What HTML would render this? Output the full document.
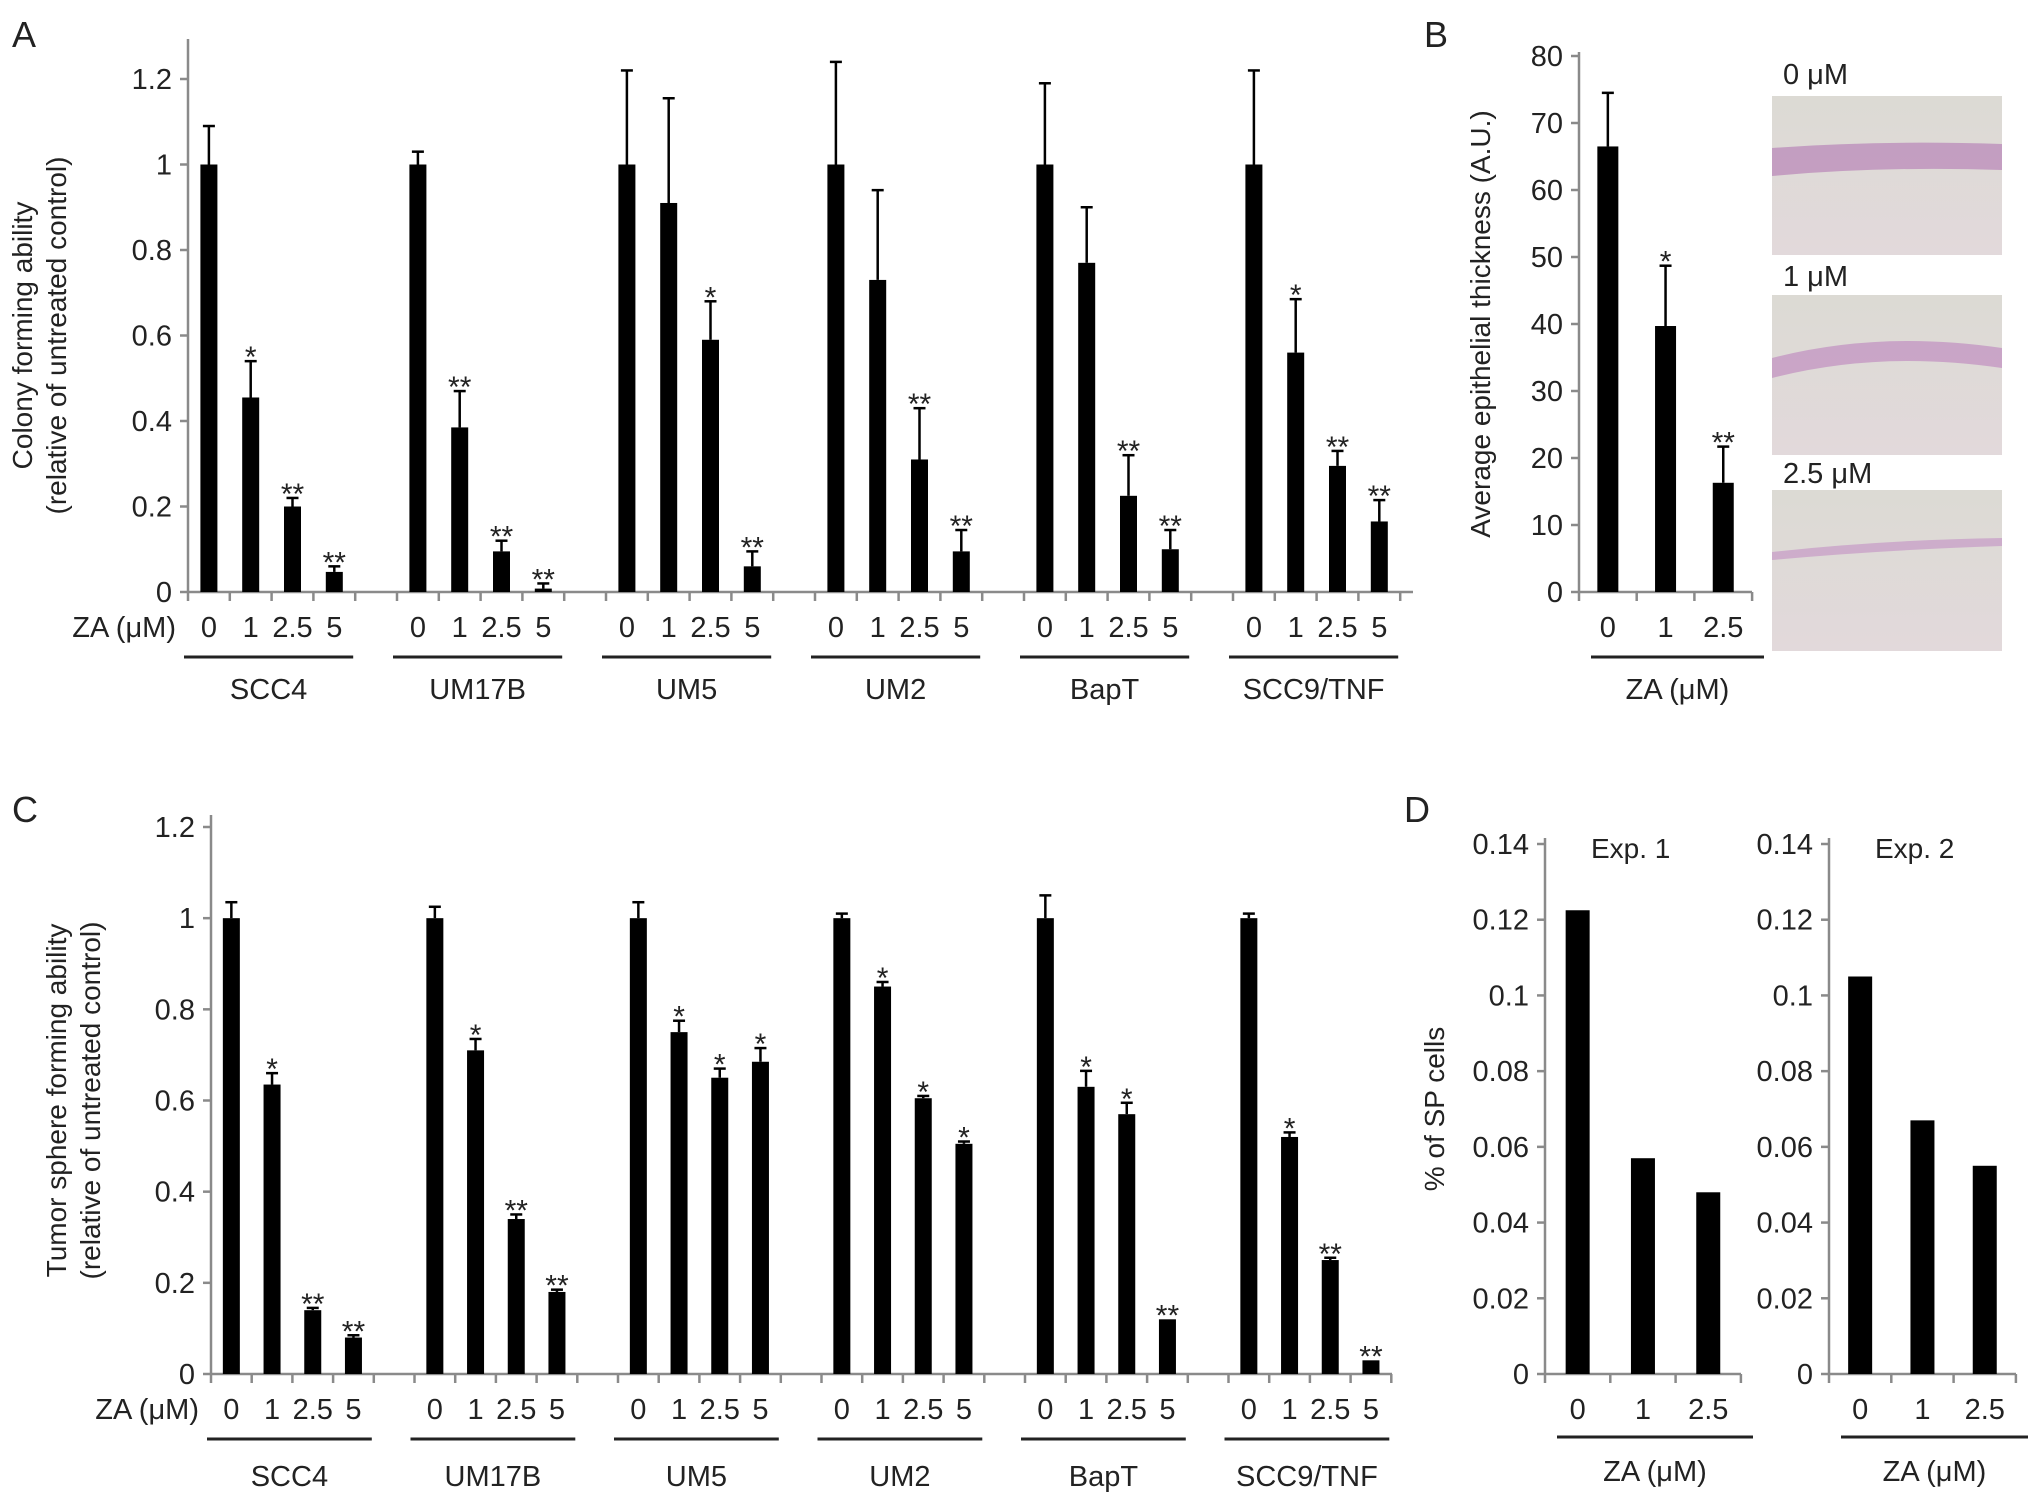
<!DOCTYPE html>
<html><head><meta charset="utf-8"><style>
html,body{margin:0;padding:0;background:#fff}
svg{display:block}
text{font-family:"Liberation Sans",Arial,sans-serif;fill:#222}
</style></head><body>
<svg id="fig" width="2032" height="1501" viewBox="0 0 2032 1501" xmlns="http://www.w3.org/2000/svg">
<text x="12" y="47" font-size="36">A</text>
<text x="1424" y="47" font-size="36">B</text>
<text x="12" y="822" font-size="36">C</text>
<text x="1404" y="822" font-size="36">D</text>
<g>
<defs><linearGradient id="tis" x1="0" y1="0" x2="0" y2="1"><stop offset="0" stop-color="#dcdad4"/><stop offset="1" stop-color="#e2d9db"/></linearGradient></defs>
<text x="1783" y="84" font-size="29">0 μM</text>
<rect x="1772" y="96" width="230" height="159" fill="url(#tis)"/>
<path d="M1772 148 Q1880 140 2002 144 L2002 170 Q1880 166 1772 176 Z" fill="#b884b8" opacity="0.7"/>
<text x="1783" y="286" font-size="29">1 μM</text>
<rect x="1772" y="295" width="230" height="160" fill="url(#tis)"/>
<path d="M1772 358 Q1880 330 2002 348 L2002 368 Q1880 350 1772 378 Z" fill="#c08ec0" opacity="0.7"/>
<text x="1783" y="483" font-size="29">2.5 μM</text>
<rect x="1772" y="490" width="230" height="161" fill="url(#tis)"/>
<path d="M1772 552 Q1880 540 2002 538 L2002 546 Q1880 550 1772 560 Z" fill="#c69ac6" opacity="0.7"/>
</g>
</svg>
<script>
const NS='http://www.w3.org/2000/svg';
const svg=document.getElementById('fig');
// ---- Panel A data ----
const groupsA=['SCC4','UM17B','UM5','UM2','BapT','SCC9/TNF'];
const dosesA=['0','1','2.5','5'];
const valuesA=[[1,0.455,0.2,0.047],[1,0.385,0.095,0.008],[1,0.91,0.59,0.06],[1,0.73,0.31,0.095],[1,0.77,0.225,0.10],[1,0.56,0.295,0.165]];
const errTopA=[[1.09,0.54,0.22,0.06],[1.03,0.47,0.12,0.02],[1.22,1.155,0.68,0.095],[1.24,0.94,0.43,0.145],[1.19,0.90,0.32,0.145],[1.22,0.685,0.33,0.215]];
const starsA=[['','*','**','**'],['','**','**','**'],['','','*','**'],['','','**','**'],['','','**','**'],['','*','**','**']];
const ticksA=[0,0.2,0.4,0.6,0.8,1,1.2];
const tickLabelsA=['0','0.2','0.4','0.6','0.8','1','1.2'];
// ---- Panel B data ----
const dosesB=['0','1','2.5'];
const valuesB=[66.5,39.7,16.3];
const errTopB=[74.5,48.7,21.7];
const starsB=['','*','**'];
const ticksB=[0,10,20,30,40,50,60,70,80];
// ---- Panel C data ----
const groupsC=['SCC4','UM17B','UM5','UM2','BapT','SCC9/TNF'];
const valuesC=[[1,0.635,0.14,0.08],[1,0.71,0.34,0.18],[1,0.75,0.65,0.685],[1,0.85,0.605,0.505],[1,0.63,0.57,0.12],[1,0.52,0.25,0.03]];
const errTopC=[[1.035,0.66,0.145,0.085],[1.025,0.735,0.35,0.185],[1.035,0.775,0.67,0.715],[1.01,0.86,0.61,0.51],[1.05,0.665,0.595,0.12],[1.01,0.53,0.255,0.03]];
const starsC=[['','*','**','**'],['','*','**','**'],['','*','*','*'],['','*','*','*'],['','*','*','**'],['','*','**','**']];
const ticksC=[0,0.2,0.4,0.6,0.8,1,1.2];
const tickLabelsC=['0','0.2','0.4','0.6','0.8','1','1.2'];
// ---- Panel D data ----
const dosesD=['0','1','2.5'];
const valuesD1=[0.1225,0.057,0.048];
const valuesD2=[0.105,0.067,0.055];
const ticksD=[0,0.02,0.04,0.06,0.08,0.1,0.12,0.14];
const tickLabelsD=['0','0.02','0.04','0.06','0.08','0.1','0.12','0.14'];

const FS=29;
function el(tag,attrs,parent){const e=document.createElementNS(NS,tag);for(const k in attrs)e.setAttribute(k,attrs[k]);(parent||svg).appendChild(e);return e;}
function txt(s,x,y,size,anchor,parent){const t=el('text',{x:x,y:y,'font-size':size,'text-anchor':anchor||'middle'},parent);t.textContent=s;return t;}

function drawAxes(g,c,ticks,labels,nSlots,tickFs){
  const ys=v=>c.y0-(v/c.vmax)*(c.y0-c.yTop);
  const ax=el('line',{x1:c.x0,y1:c.y0,x2:c.x0,y2:c.axTop,stroke:'#8a8a8a','stroke-width':2.5},g);
  
  
  const xa=el('line',{x1:c.x0,y1:c.y0,x2:c.x1,y2:c.y0,stroke:'#8a8a8a','stroke-width':2.5},g);
  
  
  ticks.forEach((v,i)=>{
    el('line',{x1:c.x0-8,y1:ys(v),x2:c.x0,y2:ys(v),stroke:'#8a8a8a','stroke-width':2.5},g);
    const t=txt(labels[i],c.x0-16,ys(v)+10,tickFs,'end',g);
    
    
  });
  for(let k=0;k<=nSlots;k++){const x=c.x0+k*c.slot;el('line',{x1:x,y1:c.y0,x2:x,y2:c.y0+9,stroke:'#8a8a8a','stroke-width':2.5},g);}
  return ys;
}
function bar(g,ys,cx,w,v,c,err,star,starFs){
  const r=el('rect',{x:cx-w/2,y:ys(v),width:w,height:c.y0-ys(v),fill:'#000'},g);
  
  
  let top=ys(v);
  if(err!=null&&err>v){top=ys(err);el('line',{x1:cx,y1:ys(v),x2:cx,y2:top,stroke:'#000','stroke-width':2.5},g);el('line',{x1:cx-6,y1:top,x2:cx+6,y2:top,stroke:'#000','stroke-width':2.5},g);}
  if(star){const s=txt(star,cx,top-6+starFs*0.4,starFs,'middle',g);s.setAttribute('fill','#555');}
}
function grouped(name,c,groups,doses,vals,errs,stars,ticks,labels,yLab,yLabX,labY,lineY,grpY){
  const g=el('g',{});
  
  
  const ys=drawAxes(g,c,ticks,labels,groups.length*5-1,FS);
  groups.forEach((gn,gi)=>{
    doses.forEach((d,di)=>{
      const cx=c.x0+(gi*5+di+0.5)*c.slot;
      bar(g,ys,cx,c.bw,vals[gi][di],c,errs[gi][di],stars[gi][di],30);
      const t=txt(d,cx,labY,FS,'middle',g);
      
      
    });
    const xs=c.x0+(gi*5)*c.slot-4, xe=c.x0+(gi*5+4)*c.slot-2;
    el('line',{x1:xs,y1:lineY,x2:xe,y2:lineY,stroke:'#222','stroke-width':3},g);
    const t=txt(gn,(xs+xe)/2,grpY,FS,'middle',g);
    
    
  });
  const z=txt('ZA (μM)',c.x0-12,labY,FS,'end',g);
  
  
  const cy=(c.y0+c.yTop)/2;
  yLab.forEach((s,i)=>{const t=el('text',{x:0,y:0,'font-size':28,'text-anchor':'middle',transform:`translate(${yLabX+i*34},${cy}) rotate(-90)`},g);t.textContent=s;});
}
grouped('panel-a-chart',{x0:188,x1:1413,y0:592,yTop:79,axTop:39,vmax:1.2,slot:41.8,bw:17},groupsA,dosesA,valuesA,errTopA,starsA,ticksA,tickLabelsA,['Colony forming ability','(relative of untreated control)'],32,637,657,699);
grouped('panel-c-chart',{x0:211,x1:1392,y0:1374,yTop:827,axTop:815,vmax:1.2,slot:40.7,bw:17},groupsC,dosesA,valuesC,errTopC,starsC,ticksC,tickLabelsC,['Tumor sphere forming ability','(relative of untreated control)'],66,1419,1439,1486);

function simple(name,c,doses,vals,errs,stars,ticks,labels,title,lineY,zaY,exp){
  const g=el('g',{});
  
  
  const ys=drawAxes(g,c,ticks,labels,doses.length,FS);
  doses.forEach((d,i)=>{
    const cx=c.x0+(i+0.5)*c.slot;
    bar(g,ys,cx,c.bw,vals[i],c,errs?errs[i]:null,stars?stars[i]:'',30);
    const t=txt(d,cx,c.y0+45,FS,'middle',g);
    
    
  });
  const xs=c.x0+12, xe=c.x1+12;
  el('line',{x1:xs,y1:lineY,x2:xe,y2:lineY,stroke:'#222','stroke-width':3},g);
  const z=txt('ZA (μM)',(xs+xe)/2,zaY,FS,'middle',g);
  
  
  if(title){const cy=(c.y0+c.yTop)/2;const t=el('text',{x:0,y:0,'font-size':28,'text-anchor':'middle',transform:`translate(${title[1]},${cy}) rotate(-90)`},g);t.textContent=title[0];}
  if(exp){const t=txt(exp,c.x0+46,858,28,'start',g);}
}
simple('panel-b-chart',{x0:1579,x1:1752,y0:592,yTop:56,axTop:52,vmax:80,slot:57.7,bw:21},dosesB,valuesB,errTopB,starsB,ticksB,ticksB.map(String),['Average epithelial thickness (A.U.)',1490],657,699,null);
simple('panel-d-exp1-chart',{x0:1545,x1:1741,y0:1374,yTop:844,axTop:838,vmax:0.14,slot:65.3,bw:24},dosesD,valuesD1,null,null,ticksD,tickLabelsD,['% of SP cells',1444],1437,1481,'Exp. 1');
simple('panel-d-exp2-chart',{x0:1829,x1:2016,y0:1374,yTop:844,axTop:838,vmax:0.14,slot:62.3,bw:24},dosesD,valuesD2,null,null,ticksD,tickLabelsD,null,1437,1481,'Exp. 2');
</script>
</body></html>
